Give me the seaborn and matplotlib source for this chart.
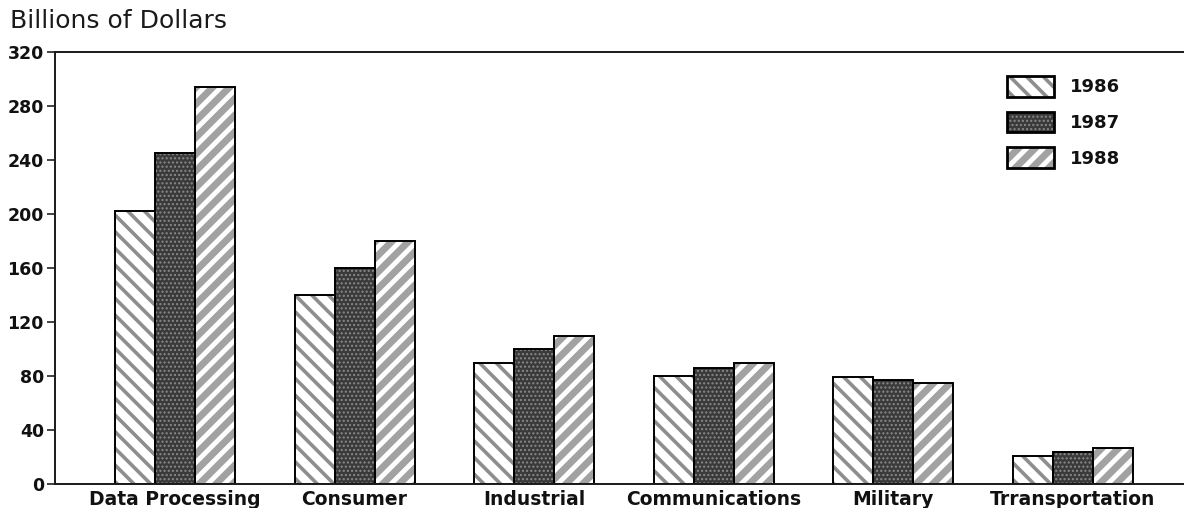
import matplotlib
matplotlib.use("Agg")
import matplotlib.pyplot as plt
import seaborn as sns
import pandas as pd
from matplotlib.patches import Patch
from matplotlib.legend_handler import HandlerTuple, HandlerPatch

# Electronics market by segment, billions of dollars
categories = ["Data Processing", "Consumer", "Industrial", "Communications",
              "Military", "Trransportation"]
years = ["1986", "1987", "1988"]
sales_1986 = [202, 140, 90, 80, 79, 21]
sales_1987 = [245, 160, 100, 86, 77, 24]
sales_1988 = [294, 180, 110, 90, 75, 27]
y_ticks = [0, 40, 80, 120, 160, 200, 240, 280, 320]

df = pd.DataFrame({
    "segment": categories * 3,
    "year": [y for y in years for _ in categories],
    "sales": sales_1986 + sales_1987 + sales_1988,
})

sns.set_theme(style="white")
plt.rcParams["font.family"] = ["DejaVu Sans"]

# fill, hatch, hatch colour, hatch width for each year
styles = {
    "1986": dict(face="white", hatch="\\\\", hcol="#8e8e8e", hlw=2.6),
    "1987": dict(face="#3a3a3a", hatch="....", hcol="#8a8a8a", hlw=1.0),
    "1988": dict(face="white", hatch="//", hcol="#a2a2a2", hlw=5.0),
}


class HatchWidthHandler(HandlerPatch):
    """Legend patch handler that keeps the source patch's hatch width."""

    def create_artists(self, legend, orig_handle, xdescent, ydescent,
                       width, height, fontsize, trans):
        artists = super().create_artists(legend, orig_handle, xdescent, ydescent,
                                         width, height, fontsize, trans)
        if hasattr(orig_handle, "get_hatch_linewidth"):
            for a in artists:
                a.set_hatch_linewidth(orig_handle.get_hatch_linewidth())
        return artists


fig = plt.figure(figsize=(11.84, 5.08), dpi=100)
ax = fig.add_axes([55 / 1184, 1 - 484 / 508, 1 - 55 / 1184, (484 - 52) / 508])

order_kw = dict(order=categories, hue_order=years, width=0.668, gap=0,
                dodge=True, legend=False, ax=ax)

# patterned fills
sns.barplot(data=df, x="segment", y="sales", hue="year", **order_kw)
for year, cont in zip(years, ax.containers):
    st = styles[year]
    for bar in cont:
        bar.set_facecolor(st["face"])
        bar.set_hatch(st["hatch"])
        bar.set_edgecolor(st["hcol"])
        bar.set_linewidth(0)
        if hasattr(bar, "set_hatch_linewidth"):
            bar.set_hatch_linewidth(st["hlw"])

# black outlines on top
n_before = len(ax.containers)
sns.barplot(data=df, x="segment", y="sales", hue="year", fill=False, **order_kw)
for cont in ax.containers[n_before:]:
    for bar in cont:
        bar.set_facecolor("none")
        bar.set_edgecolor("black")
        bar.set_linewidth(1.4)

ax.set_xlim(-0.668, 5.618)
ax.set_ylim(0, 320)
ax.set_yticks(y_ticks)
ax.set_yticklabels([str(t) for t in y_ticks], fontweight="bold", fontsize=12.5,
                   color="#111")
ax.set_xticks(range(len(categories)))
ax.set_xticklabels(categories, fontweight="bold", fontsize=13.5, color="#111")
ax.set_xlabel("")
ax.set_ylabel("")
ax.tick_params(axis="y", length=6, width=1.2, pad=2, left=True, color="#222")
ax.tick_params(axis="x", length=0, pad=4)

for side in ["left", "top", "bottom"]:
    ax.spines[side].set_visible(True)
    ax.spines[side].set_color("#1a1a1a")
    ax.spines[side].set_linewidth(1.4)
ax.spines["right"].set_visible(False)

fig.text(10 / 1184, 1 - 9 / 508, "Billions of Dollars", fontsize=18,
         ha="left", va="top", color="#1a1a1a")

# legend: patterned swatch overlaid by a black outline
handles = []
for year in years:
    st = styles[year]
    fill = Patch(facecolor=st["face"], hatch=st["hatch"], edgecolor=st["hcol"], linewidth=0)
    if hasattr(fill, "set_hatch_linewidth"):
        fill.set_hatch_linewidth(st["hlw"])
    outline = Patch(facecolor="none", edgecolor="black", linewidth=2.0)
    handles.append((fill, outline))
leg = fig.legend(handles, years,
                 handler_map={tuple: HandlerTuple(ndivide=1, pad=0),
                              Patch: HatchWidthHandler()},
                 loc="upper left", bbox_to_anchor=(1007 / 1184, 1 - 76 / 508),
                 bbox_transform=fig.transFigure, frameon=False, borderpad=0,
                 borderaxespad=0, handlelength=2.6, handleheight=1.39,
                 labelspacing=0.83, handletextpad=0.9,
                 prop=dict(weight="bold", size=13))
for t in leg.get_texts():
    t.set_color("#111")

fig.savefig("out.png", dpi=100)
